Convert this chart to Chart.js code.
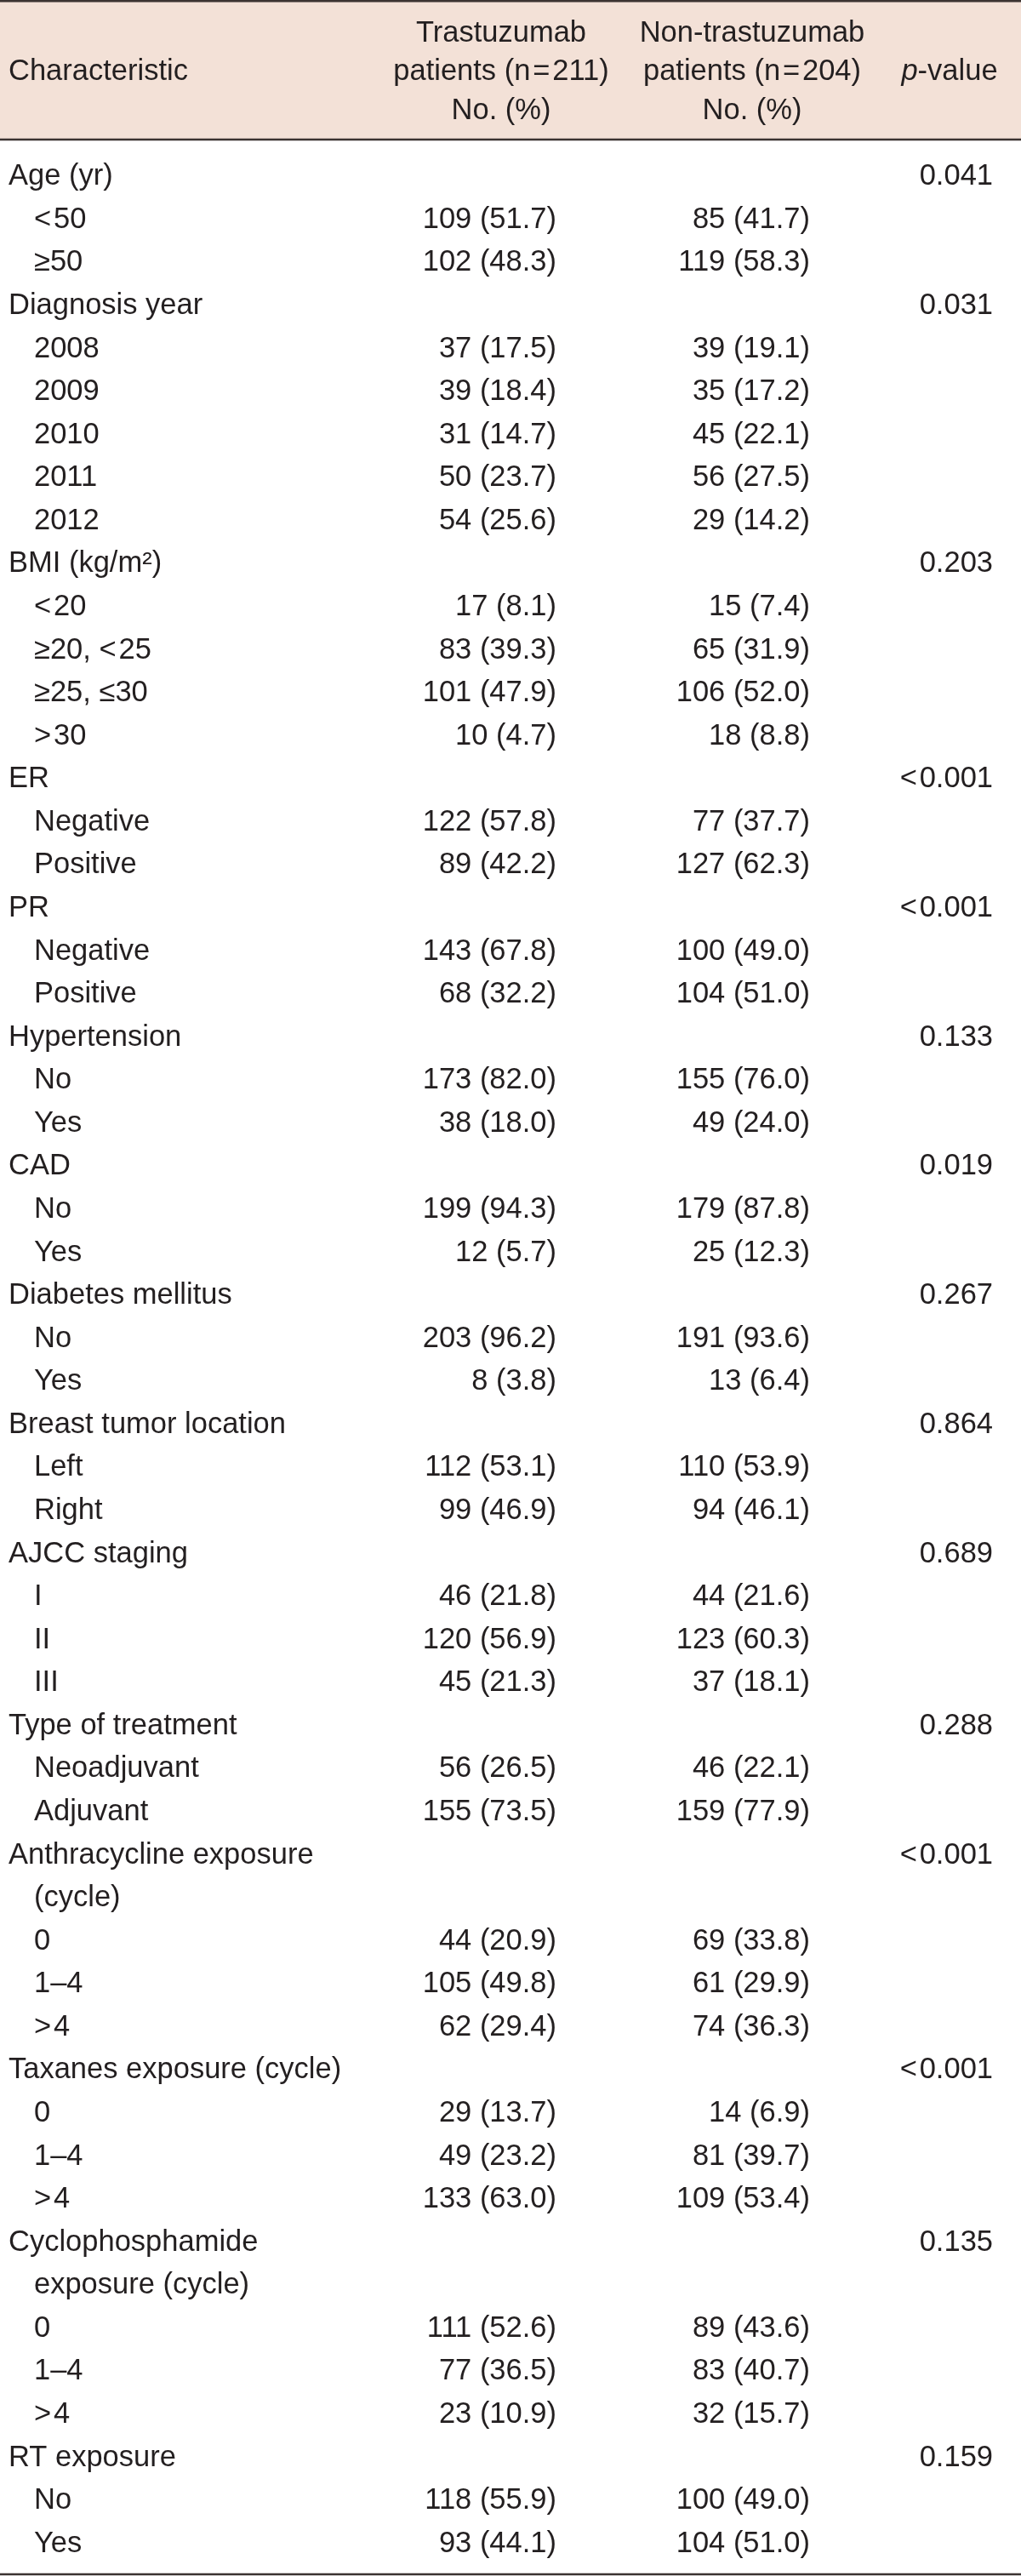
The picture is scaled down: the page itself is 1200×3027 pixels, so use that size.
<!DOCTYPE html>
<html lang="en">
<head>
<meta charset="UTF-8">
<title>Baseline characteristics</title>
<script src="https://cdn.jsdelivr.net/npm/chart.js"></script>
<style>
  html, body { margin: 0; padding: 0; background: #fff; }
  #wrap { width: 1200px; height: 3027px; position: relative; }
</style>
</head>
<body>
<div id="wrap"><canvas id="table-chart" aria-label="Baseline characteristics table"></canvas></div>
<script>
// ---- table content ----
const columnHeads = [
    ['Trastuzumab', 'patients (n\u200a=\u200a211)', 'No. (%)'],
    ['Non-trastuzumab', 'patients (n\u200a=\u200a204)', 'No. (%)']
];
const groups = [
    ['Age (yr)'], ['Diagnosis year'], ['BMI (kg/m\u00b2)'], ['ER'], ['PR'],
    ['Hypertension'], ['CAD'], ['Diabetes mellitus'], ['Breast tumor location'],
    ['AJCC staging'], ['Type of treatment'], ['Anthracycline exposure', '(cycle)'],
    ['Taxanes exposure (cycle)'], ['Cyclophosphamide', 'exposure (cycle)'], ['RT exposure']
];
const pValues = ['0.041', '0.031', '0.203', '<\u200a0.001', '<\u200a0.001', '0.133', '0.019',
    '0.267', '0.864', '0.689', '0.288', '<\u200a0.001', '<\u200a0.001', '0.135', '0.159'];
const subgroups = [
    ['<\u200a50', '\u226550'],
    ['2008', '2009', '2010', '2011', '2012'],
    ['<\u200a20', '\u226520, <\u200a25', '\u226525, \u226430', '>\u200a30'],
    ['Negative', 'Positive'],
    ['Negative', 'Positive'],
    ['No', 'Yes'],
    ['No', 'Yes'],
    ['No', 'Yes'],
    ['Left', 'Right'],
    ['I', 'II', 'III'],
    ['Neoadjuvant', 'Adjuvant'],
    ['0', '1\u20134', '>\u200a4'],
    ['0', '1\u20134', '>\u200a4'],
    ['0', '1\u20134', '>\u200a4'],
    ['No', 'Yes']
];
const trastN = [[109, 102], [37, 39, 31, 50, 54], [17, 83, 101, 10], [122, 89], [143, 68],
    [173, 38], [199, 12], [203, 8], [112, 99], [46, 120, 45], [56, 155], [44, 105, 62],
    [29, 49, 133], [111, 77, 23], [118, 93]];
const trastPct = [[51.7, 48.3], [17.5, 18.4, 14.7, 23.7, 25.6], [8.1, 39.3, 47.9, 4.7],
    [57.8, 42.2], [67.8, 32.2], [82.0, 18.0], [94.3, 5.7], [96.2, 3.8], [53.1, 46.9],
    [21.8, 56.9, 21.3], [26.5, 73.5], [20.9, 49.8, 29.4], [13.7, 23.2, 63.0],
    [52.6, 36.5, 10.9], [55.9, 44.1]];
const nonN = [[85, 119], [39, 35, 45, 56, 29], [15, 65, 106, 18], [77, 127], [100, 104],
    [155, 49], [179, 25], [191, 13], [110, 94], [44, 123, 37], [46, 159], [69, 61, 74],
    [14, 81, 109], [89, 83, 32], [100, 104]];
const nonPct = [[41.7, 58.3], [19.1, 17.2, 22.1, 27.5, 14.2], [7.4, 31.9, 52.0, 8.8],
    [37.7, 62.3], [49.0, 51.0], [76.0, 24.0], [87.8, 12.3], [93.6, 6.4], [53.9, 46.1],
    [21.6, 60.3, 18.1], [22.1, 77.9], [33.8, 29.9, 36.3], [6.9, 39.7, 53.4],
    [43.6, 40.7, 15.7], [49.0, 51.0]];

// ---- layout (row units on the y scale, pixels on the x scale) ----
const FONT_SIZE = 34.5;
const FONT_FAMILY = '"Liberation Sans", Arial, Helvetica, sans-serif';
const TEXT_COLOR = '#231f20';
const HEAD_BG = '#f3e1d7';
const RULE_COLOR = '#3b3331';
const Y_MIN = -4.054, Y_MAX = 55.804;   // canvas top / bottom in rows
const HEAD_LINES = [-3.322, -2.432, -1.523];
const RULE_TOP = -4.03, RULE_HEAD = -0.81, RULE_BOTTOM = 55.765;
const X_GROUP = 10, X_SUB = 40, X_TRAST = 654, X_NON = 952, X_P = 1167;
const X_HEAD_TRAST = 589, X_HEAD_NON = 884, X_HEAD_P = 1116;

// build the cell points
const labelPts = [], trastPts = [], nonPts = [], pPts = [];
let row = 0;
groups.forEach((g, gi) => {
    g.forEach((line, li) => {
        labelPts.push({ x: li === 0 ? X_GROUP : X_SUB, y: row, text: line });
        if (li === 0) pPts.push({ x: X_P, y: row, text: pValues[gi] });
        row++;
    });
    subgroups[gi].forEach((s, si) => {
        labelPts.push({ x: X_SUB, y: row, text: s });
        trastPts.push({ x: X_TRAST, y: row, text: trastN[gi][si] + ' (' + trastPct[gi][si].toFixed(1) + ')' });
        nonPts.push({ x: X_NON, y: row, text: nonN[gi][si] + ' (' + nonPct[gi][si].toFixed(1) + ')' });
        row++;
    });
});

const headLeft = [{ x: X_GROUP, y: HEAD_LINES[1], text: 'Characteristic' }];
const headCenter = [];
columnHeads[0].forEach((t, i) => headCenter.push({ x: X_HEAD_TRAST, y: HEAD_LINES[i], text: t }));
columnHeads[1].forEach((t, i) => headCenter.push({ x: X_HEAD_NON, y: HEAD_LINES[i], text: t }));
headCenter.push({ x: X_HEAD_P, y: HEAD_LINES[1], text: [['p', true], ['-value', false]] });

function drawRich(ctx, text, x, y, align) {
    const segs = typeof text === 'string' ? [[text, false]] : text;
    let w = 0;
    const widths = segs.map(s => {
        ctx.font = (s[1] ? 'italic ' : '') + FONT_SIZE + 'px ' + FONT_FAMILY;
        const m = ctx.measureText(s[0]).width;
        w += m;
        return m;
    });
    let cx = align === 'right' ? x - w : align === 'center' ? x - w / 2 : x;
    const base = y + FONT_SIZE * 0.358;
    segs.forEach((s, i) => {
        ctx.font = (s[1] ? 'italic ' : '') + FONT_SIZE + 'px ' + FONT_FAMILY;
        ctx.fillText(s[0], cx, base);
        cx += widths[i];
    });
}

const tablePlugin = {
    id: 'tableDraw',
    beforeDatasetsDraw(chart) {
        const ctx = chart.ctx;
        const xs = chart.scales.x, ys = chart.scales.y;
        const left = xs.getPixelForValue(0), right = xs.getPixelForValue(1200);
        ctx.save();
        ctx.fillStyle = HEAD_BG;
        const top = ys.getPixelForValue(Y_MIN), hb = ys.getPixelForValue(RULE_HEAD);
        ctx.fillRect(left, top, right - left, hb - top);
        ctx.strokeStyle = RULE_COLOR;
        ctx.lineWidth = 2.5;
        [RULE_TOP, RULE_HEAD, RULE_BOTTOM].forEach(v => {
            const py = ys.getPixelForValue(v);
            ctx.beginPath();
            ctx.moveTo(left, py);
            ctx.lineTo(right, py);
            ctx.stroke();
        });
        ctx.restore();
    },
    afterDatasetsDraw(chart) {
        const ctx = chart.ctx;
        ctx.save();
        ctx.fillStyle = TEXT_COLOR;
        ctx.textAlign = 'left';
        ctx.textBaseline = 'alphabetic';
        chart.data.datasets.forEach((ds, i) => {
            const meta = chart.getDatasetMeta(i);
            meta.data.forEach((el, j) => drawRich(ctx, ds.data[j].text, el.x, el.y, ds.align));
        });
        ctx.restore();
    }
};

const cellSet = (label, data, align) => ({
    label, data, align, pointRadius: 0, pointHoverRadius: 0, showLine: false
});

new Chart(document.getElementById('table-chart'), {
    type: 'scatter',
    data: {
        datasets: [
            cellSet('head-left', headLeft, 'left'),
            cellSet('head-center', headCenter, 'center'),
            cellSet('Characteristic', labelPts, 'left'),
            cellSet('Trastuzumab', trastPts, 'right'),
            cellSet('Non-trastuzumab', nonPts, 'right'),
            cellSet('p-value', pPts, 'right')
        ]
    },
    options: {
        responsive: true,
        maintainAspectRatio: false,
        animation: false,
        events: [],
        layout: { padding: 0 },
        plugins: { legend: { display: false }, tooltip: { enabled: false } },
        scales: {
            x: { type: 'linear', min: 0, max: 1200, display: false },
            y: { type: 'linear', min: Y_MIN, max: Y_MAX, reverse: true, display: false }
        }
    },
    plugins: [tablePlugin]
});
</script>
</body>
</html>
